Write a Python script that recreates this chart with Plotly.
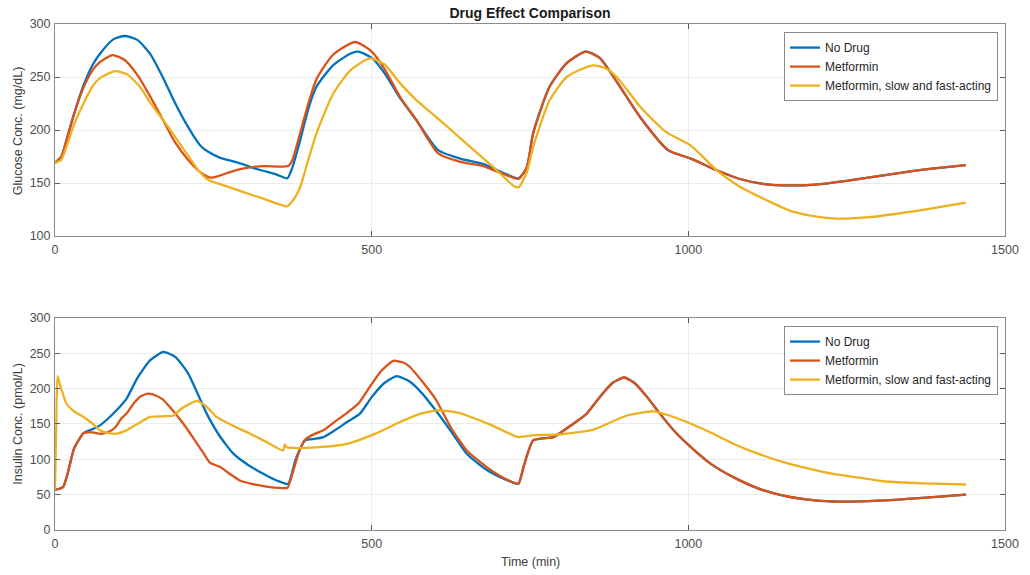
import plotly.graph_objects as go
from plotly.subplots import make_subplots

# ---------------- Data ----------------
series_names = ["No Drug", "Metformin", "Metformin, slow and fast-acting"]
colors = ["#0072BD", "#D95319", "#EDB120"]

# Glucose (mg/dL)
g_nodrug_t = [0, 10, 18, 30, 45, 60, 71, 92, 110, 130, 150, 170, 190, 210, 230, 242, 260, 290, 320, 350, 367,
              375, 387, 400, 413, 439, 466, 479, 500, 520, 545, 571, 605, 640, 676, 710, 732,
              745, 755, 781, 808, 838, 860, 887, 924, 968, 1004, 1045, 1080, 1120, 1160, 1200, 1250, 1300, 1350, 1400, 1438]
g_nodrug = [169, 175, 190, 215, 242, 262, 272, 285.5, 288.7, 285, 272, 250, 225, 203, 185, 179.4, 174, 169, 163, 158, 154.5,
            165, 190, 220, 241, 261, 272, 274, 268, 254, 230, 209, 181, 173, 168, 159, 154.5,
            165, 197, 241, 263, 274, 268, 245.5, 212, 181, 173, 162, 154, 149, 147.7, 148.5, 152, 156.5, 161, 164.5, 166.8]

g_met_t = [0, 10, 18, 30, 45, 60, 71, 91, 110, 130, 150, 170, 190, 210, 230, 246, 260, 280, 300, 330, 368,
           375, 387, 400, 413, 439, 474, 500, 520, 545, 571, 605, 640, 676, 710, 732,
           745, 755, 781, 808, 838, 860, 887, 924, 968, 1004, 1045, 1080, 1120, 1160, 1200, 1250, 1300, 1350, 1400, 1438]
g_met = [169, 175, 190, 215, 240, 257, 264, 270.7, 266, 252, 232, 210, 188, 172, 160, 155, 157, 161, 164, 166, 166,
         172, 197, 225, 248, 271, 283, 274, 258, 231, 209, 178, 170, 166, 158, 154,
         165, 197, 241, 263, 274, 268, 245.5, 212, 181, 173, 162, 154, 149, 147.7, 148.5, 152, 156.5, 161, 164.5, 166.8]

g_slow_t = [0, 10, 18, 30, 45, 60, 71, 95, 115, 135, 150, 175, 203, 225, 242, 270, 300, 330, 366,
            375, 387, 400, 413, 439, 466, 497, 520, 545, 571, 608, 650, 692, 725, 732,
            745, 755, 781, 808, 849, 870, 887, 924, 965, 1003, 1045, 1080, 1124, 1160, 1200, 1234, 1280, 1330, 1380, 1438]
g_slow = [169, 172, 184, 205, 225, 242, 249, 255.6, 252, 240, 226, 206, 182, 163, 153, 147, 141, 135, 128,
          133, 146, 172, 197, 234, 256, 267.6, 262, 244, 228, 209, 187, 165, 147, 146,
          160, 184, 228, 250, 261, 258, 250, 222, 198, 185.7, 162, 147, 133.7, 124, 118.5, 116.4, 117.5, 121, 125.5, 131.5]

# Insulin (pmol/L)
i_nodrug_t = [0, 6, 13, 20, 30, 45, 60, 71, 90, 113, 130, 150, 171, 190, 210, 239.5, 260, 281.6, 305, 334, 350, 368,
              380, 395, 410, 424, 440, 460, 481.6, 500, 520, 539.5, 560, 580, 597, 625, 650, 680, 710, 731.6,
              740, 755, 787, 810, 839.5, 860, 880, 898.5, 915, 935, 955, 980, 1004, 1035, 1071, 1110, 1150, 1200, 1239.5, 1300, 1370, 1438.5]
i_nodrug = [57, 58, 61, 80, 115, 137, 143, 148, 163, 186, 215, 240, 252, 245, 222, 164.7, 133, 108, 92, 77, 70, 65.3,
            100, 127, 129, 131.5, 140, 152, 164.7, 188, 208, 217.7, 210, 193, 174, 140, 108, 86, 72, 65.3,
            90, 126.8, 131.5, 145, 164.7, 188, 208, 215.8, 208, 188, 164.7, 138, 117.4, 94, 74.8, 59, 48.7, 42, 40.2, 41.5, 45.5, 50.2]

i_met_t = [0, 6, 13, 20, 30, 45, 60, 71, 85, 95, 105, 113, 125, 135, 147, 160, 171, 185, 203, 220, 235, 245, 261, 275, 292, 312, 334, 355, 367,
           375, 385, 395, 410, 424, 440, 460, 479, 497, 515, 534, 550, 560, 580, 602, 625, 650, 680, 710, 731.6,
           740, 755, 787, 810, 839.5, 860, 880, 898.5, 915, 935, 955, 980, 1004, 1035, 1071, 1110, 1150, 1200, 1239.5, 1300, 1370, 1438.5]
i_met = [57, 58, 61, 80, 115, 137, 138, 136, 139, 145, 158, 165, 180, 189, 193, 190, 184, 170, 150, 128, 108, 95, 89, 80, 70, 65, 61.5, 59.5, 59.6,
         80, 110, 128, 136, 141, 152, 165, 179, 202.5, 225, 239.4, 237, 231, 210, 183.6, 145, 112.6, 90, 73, 65.3,
         90, 126.8, 131.5, 145, 164.7, 188, 208, 215.8, 208, 188, 164.7, 138, 117.4, 94, 74.8, 59, 48.7, 42, 40.2, 41.5, 45.5, 50.2]

i_slow_t = [0, 2, 4, 8, 18, 30, 45, 60, 71, 85, 97, 113, 130, 150, 176, 187, 200, 224, 240, 255, 280, 308, 335, 360, 363, 366,
            380, 413, 440, 466, 505, 545, 575, 603, 630, 650, 690, 731.6, 755, 797, 850, 903, 945, 970, 997.5,
            1035, 1071, 1110, 1150, 1190, 1229, 1270, 1308, 1370, 1438.5]
i_slow = [57, 150, 218, 205, 179, 168, 160, 150, 141, 137, 136.3, 141, 150, 160, 161, 162, 172, 182.7, 174, 160, 148, 136.3, 124, 112.6, 121, 117,
          116, 117, 119, 123, 136, 152.8, 164, 169.4, 167, 162, 148, 131.5, 134, 135.3, 142, 162, 168, 162, 152.8,
          138, 122, 108, 96, 87, 79.5, 74, 69, 66, 64.4]

x_ticks = [0, 500, 1000, 1500]
g_ticks = [100, 150, 200, 250, 300]
i_ticks = [0, 50, 100, 150, 200, 250, 300]

# ---------------- Figure ----------------
fig = make_subplots(rows=2, cols=1, vertical_spacing=0.162)

font_family = "Liberation Sans, Arial, Helvetica, sans-serif"

top = [(g_nodrug_t, g_nodrug), (g_met_t, g_met), (g_slow_t, g_slow)]
bot = [(i_nodrug_t, i_nodrug), (i_met_t, i_met), (i_slow_t, i_slow)]

for k, (t, v) in enumerate(top):
    fig.add_trace(go.Scatter(x=t, y=v, mode="lines", name=series_names[k],
                             line=dict(color=colors[k], width=2.3, shape="spline", smoothing=0.6),
                             legend="legend"), row=1, col=1)
for k, (t, v) in enumerate(bot):
    fig.add_trace(go.Scatter(x=t, y=v, mode="lines", name=series_names[k],
                             line=dict(color=colors[k], width=2.3, shape="spline", smoothing=0.5),
                             legend="legend2"), row=2, col=1)

axis_common = dict(showline=True, linecolor="#8a8a8a", linewidth=1, mirror="ticks",
                   ticks="inside", ticklen=5, tickcolor="#5a5a5a",
                   showgrid=True, gridcolor="#ebebeb", gridwidth=1, zeroline=False,
                   tickfont=dict(size=12.5, color="#4d4d4d", family=font_family))

fig.update_xaxes(range=[0, 1500], tickvals=x_ticks, ticklabelstandoff=2, **axis_common)
fig.update_yaxes(ticklabelstandoff=1, **axis_common)
fig.update_yaxes(range=[100, 300], tickvals=g_ticks, row=1, col=1)
fig.update_yaxes(range=[0, 300], tickvals=i_ticks, row=2, col=1)

legend_common = dict(bgcolor="white", bordercolor="#8a8a8a", borderwidth=1,
                     font=dict(size=12, color="#262626", family=font_family),
                     xanchor="right", yanchor="top", tracegroupgap=0,
                     itemwidth=30)

fig.update_layout(
    width=1030, height=575,
    margin=dict(l=55, r=25, t=24, b=45),
    paper_bgcolor="white", plot_bgcolor="white",
    font=dict(family=font_family, color="#404040"),
    title=dict(text="<b>Drug Effect Comparison</b>", x=0.5, xref="paper", y=1 - 13 / 575,
               yanchor="middle", font=dict(size=14, color="#1a1a1a", family=font_family)),
    legend=dict(x=0.9926, y=0.984, **legend_common),
    legend2=dict(x=0.9926, y=0.403, **legend_common),
    annotations=[
        dict(text="Glucose Conc. (mg/dL)", xref="paper", yref="paper", x=-0.039, y=0.79,
             textangle=-90, showarrow=False, xanchor="center", yanchor="middle",
             font=dict(size=12.5, color="#404040", family=font_family)),
        dict(text="Insulin Conc. (pmol/L)", xref="paper", yref="paper", x=-0.039, y=0.21,
             textangle=-90, showarrow=False, xanchor="center", yanchor="middle",
             font=dict(size=12.5, color="#404040", family=font_family)),
        dict(text="Time (min)", xref="paper", yref="paper", x=0.5, y=-0.063,
             showarrow=False, xanchor="center", yanchor="middle",
             font=dict(size=12.5, color="#404040", family=font_family)),
    ],
)

# Remove the default 8px page margin so the figure sits at the page corner.
fig.write_html("out.html", config={"displayModeBar": False},
               post_script="document.body.style.margin='0px';")
